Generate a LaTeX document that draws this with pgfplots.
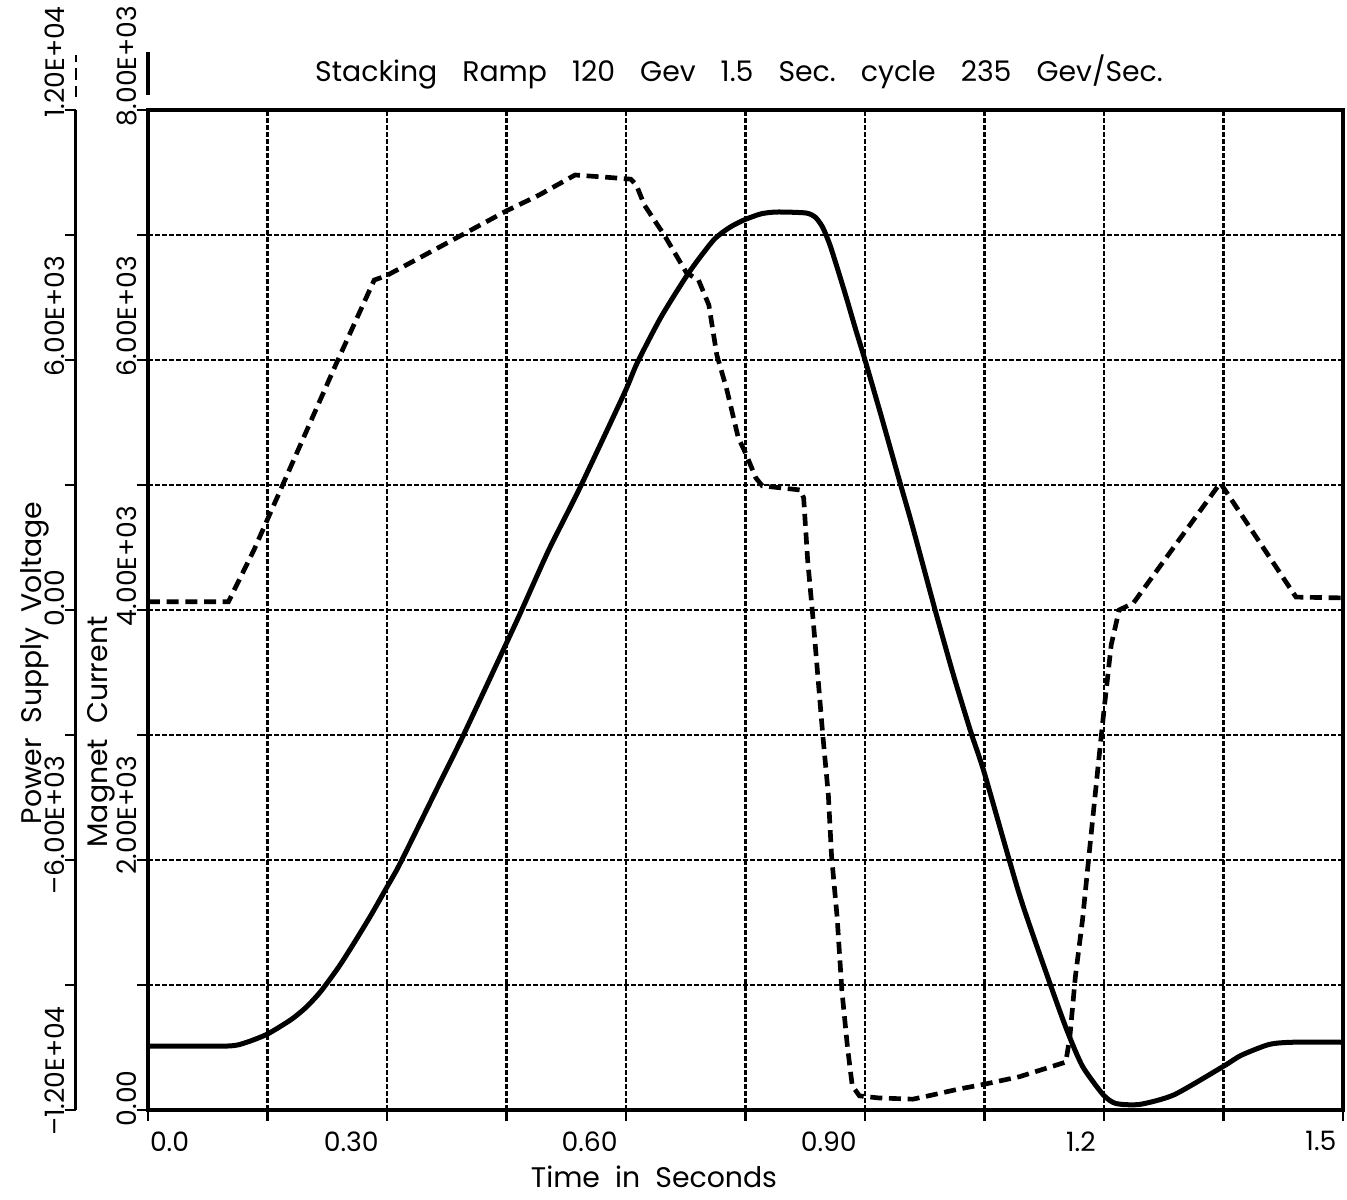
\documentclass[border=0pt]{standalone}
\usepackage{fontspec}
\setmainfont{Poppins}
\usepackage{pgfplots}
\pgfplotsset{compat=1.18}

\pgfplotstableread{
t I
0     512
0.100 512
0.123 540
0.150 608
0.180 725
0.199 825
0.217 950
0.240 1150
0.259 1340
0.280 1560
0.300 1784
0.313 1930
0.328 2120
0.365 2600
0.396 3000
0.450 3736
0.468 3984
0.503 4480
0.542 4976
0.598 5736
0.614 5976
0.644 6344
0.679 6700
0.710 6960
0.730 7060
0.748 7120
0.770 7170
0.790 7184
0.826 7176
0.838 7140
0.847 7060
0.856 6920
0.866 6720
0.877 6490
0.888 6250
0.900 6000
0.920 5560
0.943 5040
0.960 4660
0.988 4000
1.011 3480
1.033 3020
1.050 2692
1.094 1720
1.133 997
1.154 629
1.173 350
1.199 122
1.215 52
1.245 45
1.288 122
1.350 350
1.372 437
1.407 524
1.436 542
1.500 542
}\current

\pgfplotstableread{
t V
0     200
0.101 200
0.133 1440
0.236 5900
0.284 7920
0.299 8020
0.392 8980
0.450 9580
0.491 9960
0.536 10440
0.573 10390
0.606 10340
0.613 10200
0.623 9720
0.648 9000
0.676 8090
0.691 7920
0.704 7320
0.714 6120
0.726 5330
0.741 4130
0.750 3770
0.763 3170
0.771 2980
0.819 2880
0.823 2690
0.828 1200
0.835 -260
0.841 -1630
0.847 -3000
0.854 -4440
0.858 -5900
0.865 -7370
0.871 -9140
0.878 -10490
0.884 -11420
0.893 -11660
0.917 -11710
0.960 -11740
0.982 -11650
1.017 -11500
1.050 -11380
1.094 -11200
1.152 -10850
1.157 -10270
1.164 -8810
1.173 -7440
1.183 -5540
1.193 -3670
1.200 -2400
1.209 -840
1.219 0
1.237 170
1.346 3050
1.441 310
1.500 290
}\voltage

\pgfplotsset{
  chart/.style={
    at={(0,0)}, anchor=south west,
    width=358.5pt, height=300pt, scale only axis,
    xmin=0, xmax=1.5,
    tick align=outside, major tick length=3.3pt,
    tick style={black, line width=0.8pt},
    tick label style={font=\fontsize{8}{10}\selectfont},
    label style={font=\fontsize{8.5}{10}\selectfont},
    scaled ticks=false,
    clip=false,
  },
}
\newcommand{\gap}{\hspace{7.5pt}}

\begin{document}
\begin{tikzpicture}
\path[use as bounding box] (-44.4pt,-26.7pt) rectangle (359.7pt,333pt);

% magnet current, main frame and grid
\begin{axis}[chart,
    ymin=0, ymax=8000,
    axis line style={line width=1.4pt},
    xtick={0,0.15,0.3,0.45,0.6,0.75,0.9,1.05,1.2,1.35,1.5},
    xticklabels={\rlap{\hspace{0.6pt}0.0},,\llap{0.30\hspace{2.5pt}},,\llap{0.60\hspace{2.5pt}},,\llap{0.90\hspace{2.5pt}},,\llap{1.2\hspace{2.5pt}},,\llap{1.5\hspace{2pt}}},
    xticklabel style={anchor=north, inner sep=0pt, yshift=-3pt},
    xtick pos=bottom,
    ytick={0,1000,...,8000},
    yticklabels={\llap{0}.00,,\llap{2}.00E+03,,\llap{4}.00E+03,,\llap{6}.00E+03,,\llap{8}.00E+03},
    yticklabel style={rotate=90, anchor=base west, inner sep=0pt},
    ytick pos=left,
    grid=major,
    major grid style={black, line width=0.7pt, dash pattern=on 1.5pt off 0.6pt},
    title={Stacking\gap Ramp\gap 120\gap Gev\gap 1.5\gap Sec.\gap cycle\gap 235\gap Gev/Sec.},
    title style={at={(axis description cs:0.4946,1)}, anchor=base, yshift=2.4pt, inner sep=0pt, font=\fontsize{8.5}{10}\selectfont},
    xlabel={Time\ \ in\ \ Seconds},
    xlabel style={at={(axis description cs:0.4234,0)}, anchor=base, yshift=-23.1pt, inner sep=0pt},
    ylabel={Magnet\ \ Current},
    ylabel style={at={(axis description cs:-0.0268,0.378)}, anchor=south, inner sep=0pt},
  ]
  \addplot[black, line width=1.5pt, smooth, tension=0.4] table[x=t, y=I] {\current};
  \draw[black, line width=1pt] (axis description cs:0,1.015) -- (axis description cs:0,1.058);
\end{axis}

% power supply voltage, offset left axis
\begin{axis}[chart,
    ymin=-12000, ymax=12000,
    hide x axis, axis y line*=left,
    y axis line style={line width=0.9pt, xshift=-21.6pt},
    ytick={-12000,-9000,-6000,-3000,0,3000,6000,9000,12000},
    yticklabels={\llap{–1}.20E+04,,\llap{–6}.00E+03,,\llap{0}.00,,\llap{6}.00E+03,,\llap{1}.20E+04},
    ytick style={xshift=-21.6pt},
    yticklabel style={xshift=-21.6pt, rotate=90, anchor=base west, inner sep=0pt},
    ylabel={Power\ \ Supply\ \ Voltage},
    ylabel style={at={(axis description cs:-0.082,0.447)}, anchor=south, inner sep=0pt},
  ]
  \addplot[black, line width=1.4pt, dash pattern=on 3.6pt off 2pt] table[x=t, y=V] {\voltage};
  \draw[black, line width=0.8pt, dash pattern=on 3.4pt off 1.8pt] (axis description cs:-0.0603,1.013) -- (axis description cs:-0.0603,1.055);
\end{axis}
\end{tikzpicture}
\end{document}
